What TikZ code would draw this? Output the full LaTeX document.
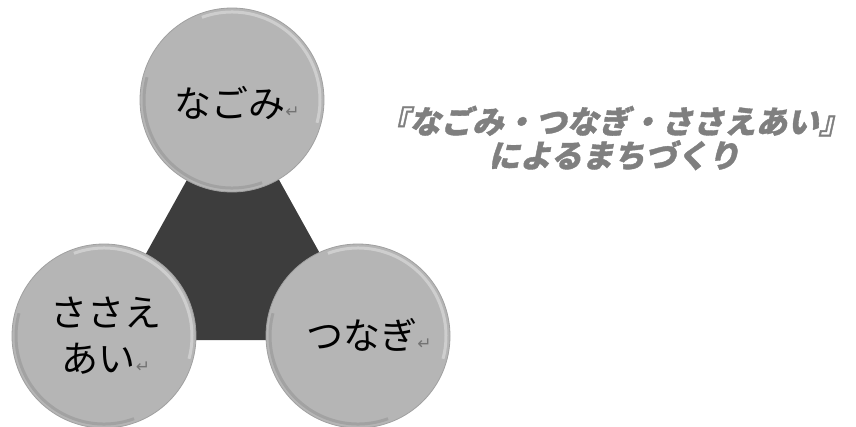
\documentclass[tikz,border=0pt]{standalone}
\usepackage{fontspec}
\newfontfamily\jp{Noto Sans CJK JP}
\newfontfamily\jpt{Noto Sans CJK JP}[FakeSlant=0.22, BoldFeatures={FakeBold=1.2}]
\newfontfamily\djv{DejaVu Sans}
\usetikzlibrary{calc}
\definecolor{ballfill}{HTML}{B5B5B5}
\definecolor{balledge}{HTML}{A0A0A0}
\definecolor{tricol}{HTML}{3D3D3D}
\definecolor{titlecol}{HTML}{7F7F7F}
\newcommand{\retmark}{{\djv\fontsize{17}{17}\selectfont\textcolor{black!55}{↵}}}
\tikzset{
  ball/.style={circle, minimum size=184pt, inner sep=0pt, fill=ballfill, draw=balledge, line width=0.8pt},
  rimhi/.style={draw=white, opacity=0.35, line width=3pt},
  rimlo/.style={draw=black, opacity=0.10, line width=3pt},
  balltext/.style={font=\jp\fontsize{37}{46}\selectfont, align=center, inner sep=0pt, text=black},
  title/.style={font=\jpt\bfseries\fontsize{31.5}{34}\selectfont, align=center, text=titlecol, inner sep=0pt},
  tri/.style={fill=tricol}
}
\begin{document}
\begin{tikzpicture}[x=1pt,y=-1pt]
\useasboundingbox (0,0) rectangle (856,426);
\coordinate (A) at (233,97);
\coordinate (B) at (98,340);
\coordinate (C) at (368,340);
\fill[tri] (A) -- (B) -- (C) -- cycle;
\node[ball] (nagomi) at (232,100) {};
\node[ball] (sasae) at (104,336) {};
\node[ball] (tsunagi) at (358,336) {};
\foreach \n in {nagomi,sasae,tsunagi}{
  \draw[rimhi] ($(\n.center)+(-110:88)$) arc[start angle=-110, end angle=15, radius=88];
  \draw[rimlo] ($(\n.center)+(70:88)$) arc[start angle=70, end angle=195, radius=88];
}
\node[balltext] (t1) at (237,103) {なごみ\retmark};
\node[balltext] (t2) at (106,336) {ささえ\\あい\retmark};
\node[balltext] (t3) at (369,335) {つなぎ\retmark};
\node[title] (ttl) at (614,138) {『なごみ・つなぎ・ささえあい』\\によるまちづくり};
\end{tikzpicture}
\end{document}
